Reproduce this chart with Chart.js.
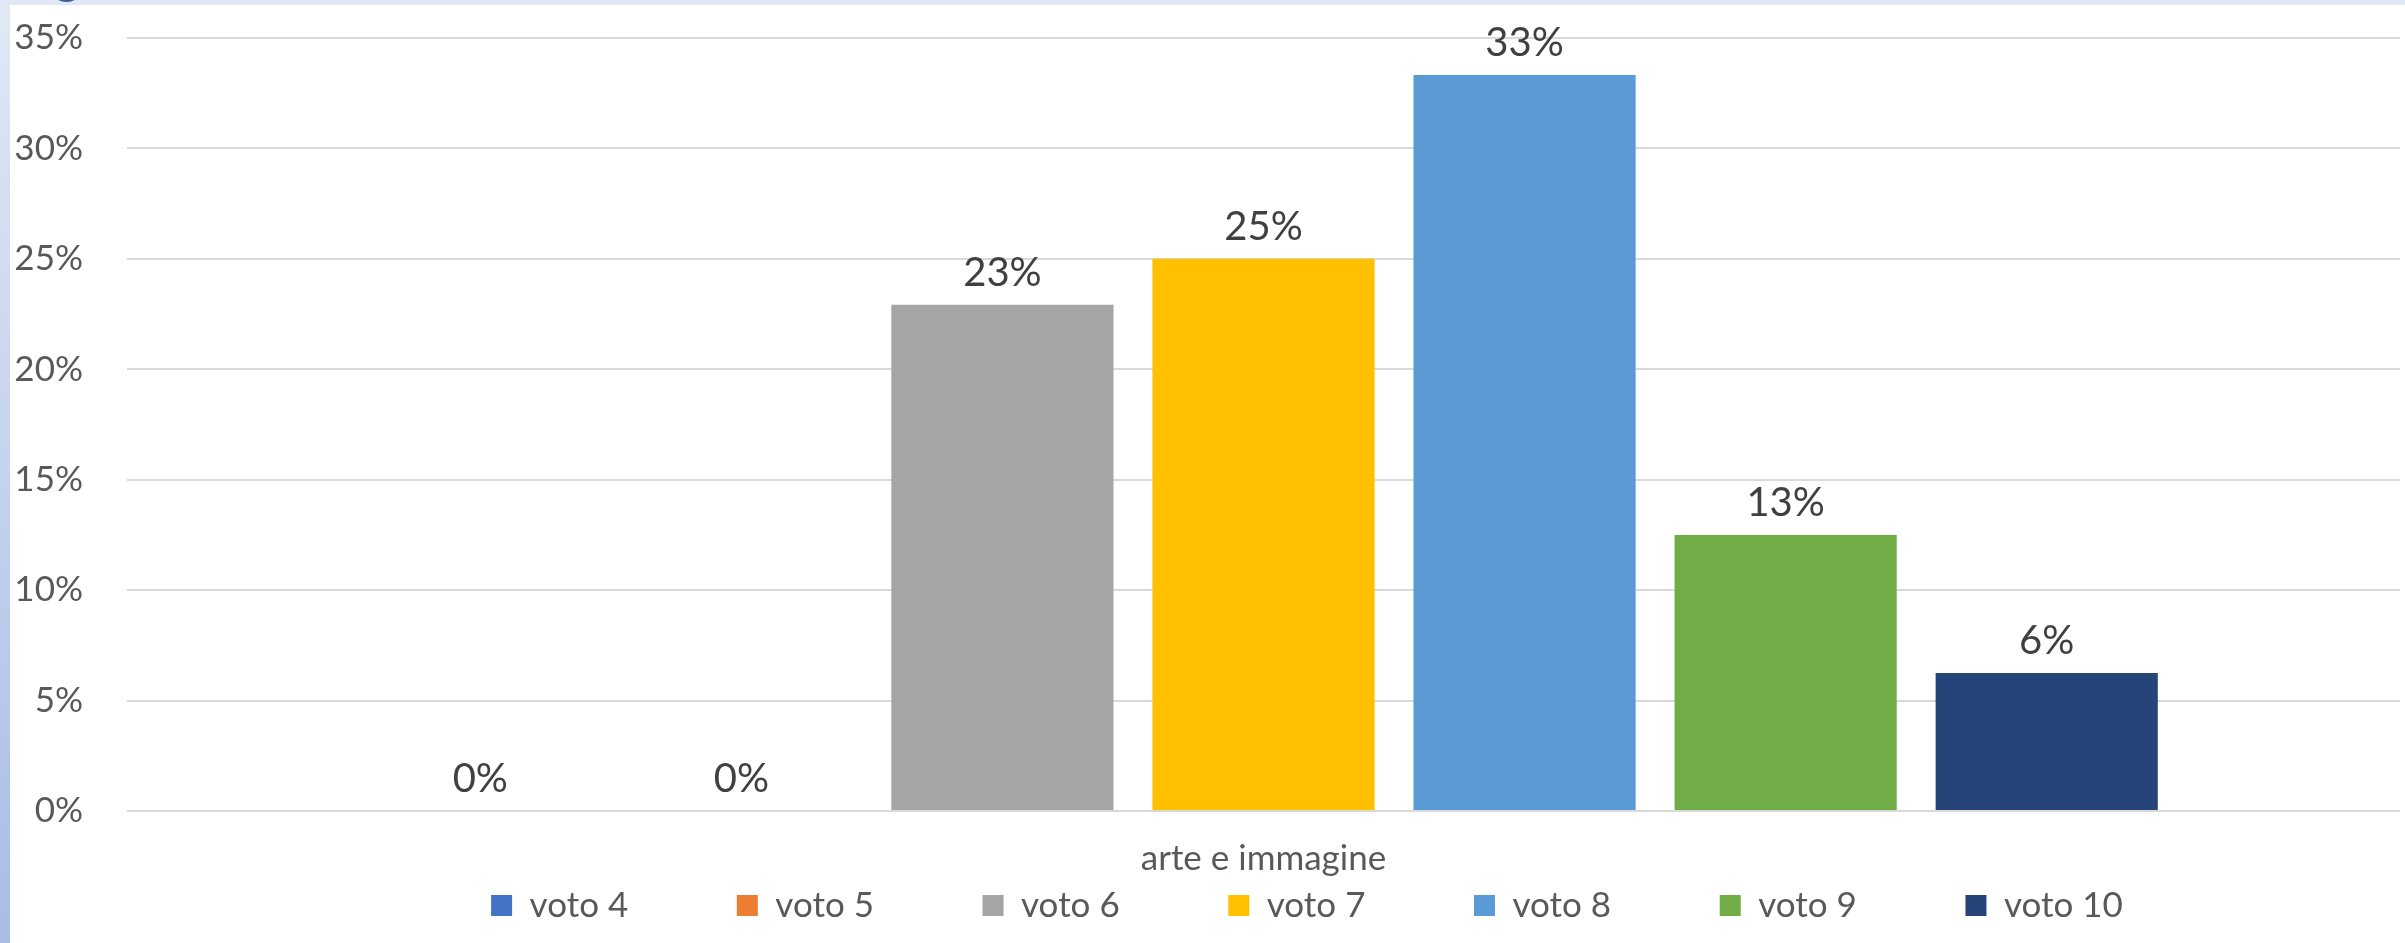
<!DOCTYPE html>
<html>
<head>
<meta charset="utf-8">
<title>arte e immagine</title>
<script src="https://cdn.jsdelivr.net/npm/chart.js@4/dist/chart.umd.min.js"></script>
<style>
    html, body {
        margin: 0;
        padding: 0;
        width: 2405px;
        height: 943px;
        overflow: hidden;
        background: linear-gradient(to bottom, #e1e8f5, #a8bce5);
    }
    #topBand {
        position: absolute;
        left: 0;
        top: 0;
        width: 2405px;
        height: 5px;
        background: #e1e8f5;
    }
    #dot {
        position: absolute;
        left: 50px;
        top: -28px;
        width: 33px;
        height: 30px;
        border-radius: 50%;
        background: #3c5c9c;
    }
    #chartBox {
        position: absolute;
        left: 10px;
        top: 5px;
        width: 2395px;
        height: 938px;
        background: #ffffff;
    }
</style>
</head>
<body>
<div id="topBand"></div>
<div id="dot"></div>
<div id="chartBox"><canvas id="gradeChart" width="2395" height="938"></canvas></div>
<script>
// Data
const categories = ['arte e immagine'];
const seriesNames = ['voto 4', 'voto 5', 'voto 6', 'voto 7', 'voto 8', 'voto 9', 'voto 10'];
const seriesValues = [0, 0, 22.92, 25, 33.33, 12.5, 6.25];
const yTicks = [0, 5, 10, 15, 20, 25, 30, 35];

// Colours (Office palette)
const seriesColors = ['#4472c4', '#ed7d31', '#a5a5a5', '#ffc000', '#5b9bd5', '#70ad47', '#264478'];

const FONT = 'Lato';

// Draws the "23%" style labels above each bar
const valueLabels = {
    id: 'valueLabels',
    afterDatasetsDraw(chart) {
        const ctx = chart.ctx;
        ctx.save();
        ctx.font = '40px ' + FONT;
        ctx.fillStyle = '#404040';
        ctx.textAlign = 'center';
        ctx.textBaseline = 'alphabetic';
        chart.data.datasets.forEach((ds, i) => {
            chart.getDatasetMeta(i).data.forEach((bar, j) => {
                ctx.fillText(Math.round(ds.data[j]) + '%', bar.x, bar.y - 19);
            });
        });
        ctx.restore();
    }
};

// Excel puts the legend a bit right of centre
const legendShift = {
    id: 'legendShift',
    afterLayout(chart) {
        chart.legend.left += 102;
        chart.legend.right += 102;
    }
};

const datasets = seriesNames.map((name, i) => ({
    label: name,
    data: [seriesValues[i]],
    backgroundColor: seriesColors[i],
    borderWidth: 0,
    categoryPercentage: 0.804,
    barPercentage: 0.851
}));

new Chart(document.getElementById('gradeChart'), {
    type: 'bar',
    data: {
        labels: categories,
        datasets: datasets
    },
    options: {
        responsive: false,
        animation: false,
        layout: {
            padding: { top: 33, right: 5, bottom: 10, left: 0 }
        },
        plugins: {
            tooltip: { enabled: false },
            legend: {
                position: 'bottom',
                labels: {
                    boxWidth: 21,
                    boxHeight: 21,
                    padding: 10,
                    color: '#595959',
                    font: { family: FONT, size: 35 },
                    generateLabels(chart) {
                        const items = Chart.defaults.plugins.legend.labels.generateLabels(chart);
                        items.forEach((item, i) => {
                            if (i < items.length - 1) item.text += ' '.repeat(11);
                        });
                        return items;
                    }
                }
            }
        },
        scales: {
            x: {
                afterFit(scale) { scale.height = 67; },
                grid: { display: false, drawTicks: false },
                border: { display: false },
                ticks: {
                    color: '#595959',
                    font: { family: FONT, size: 35 },
                    padding: 27
                }
            },
            y: {
                min: 0,
                max: 35,
                afterFit(scale) {
                    scale.width = 117;
                    scale.paddingTop = 0;
                    scale.paddingBottom = 0;
                },
                afterBuildTicks(scale) { scale.ticks = yTicks.map(v => ({ value: v })); },
                grid: { color: '#d9d9d9', lineWidth: 2, drawTicks: false },
                border: { display: false },
                ticks: {
                    color: '#595959',
                    font: { family: FONT, size: 35 },
                    padding: 44,
                    callback: v => v + '%'
                }
            }
        }
    },
    plugins: [valueLabels, legendShift]
});
</script>
</body>
</html>
